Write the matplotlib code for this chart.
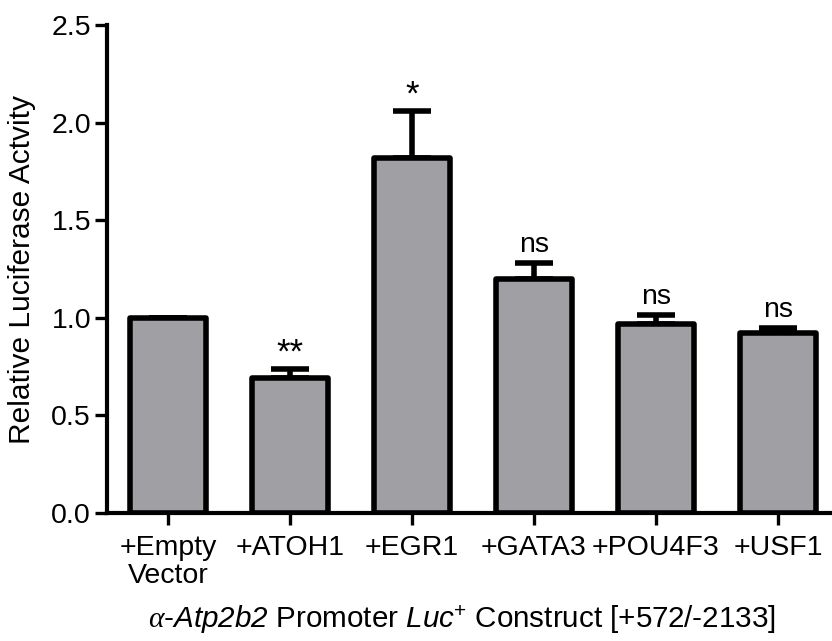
import matplotlib
matplotlib.use("Agg")
import matplotlib.pyplot as plt

plt.rcParams['font.family'] = ['Liberation Sans', 'DejaVu Sans']
plt.rcParams['mathtext.fontset'] = 'custom'
plt.rcParams['mathtext.rm'] = 'Liberation Sans'
plt.rcParams['mathtext.it'] = 'Liberation Serif:italic'
plt.rcParams['mathtext.sf'] = 'Liberation Sans:italic'

# Luciferase reporter data
categories = ['+Empty\nVector', '+ATOH1', '+EGR1', '+GATA3', '+POU4F3', '+USF1']
means = [1.00, 0.69, 1.82, 1.20, 0.97, 0.92]
sem = [0.00, 0.05, 0.24, 0.08, 0.045, 0.03]
significance = ['', '**', '*', 'ns', 'ns', 'ns']
yticks = [0.0, 0.5, 1.0, 1.5, 2.0, 2.5]

W, H = 832, 641
fig = plt.figure(figsize=(W / 100, H / 100), dpi=100)
ax = fig.add_axes([107 / W, (H - 513) / H, 732 / W, (513 - 25) / H])

x = list(range(len(categories)))
bars = ax.bar(x, means, width=0.62, color='#a09fa4', edgecolor='black',
              linewidth=4.0, zorder=2)
for b in bars:
    b.set_joinstyle('round')
ax.errorbar(x, means, yerr=[[0] * len(sem), sem], fmt='none', ecolor='black',
            elinewidth=4.0, capsize=14, capthick=4.0, zorder=1)

for xi, m, e, s in zip(x, means, sem, significance):
    if s:
        if s.startswith('*'):
            ax.text(xi, m + e - 0.005, s, ha='center', va='bottom', fontsize=25)
        else:
            ax.text(xi, m + e + 0.025, s, ha='center', va='bottom', fontsize=20.5)

ax.set_xlim(-0.5, 5.5)
ax.set_ylim(0, 2.5)
ax.set_yticks(yticks)
ax.set_yticklabels([f'{v:.1f}' for v in yticks])
ax.set_xticks(x)
ax.set_xticklabels(categories, linespacing=1.1)

for side in ['top', 'right']:
    ax.spines[side].set_visible(False)
for side in ['left', 'bottom']:
    ax.spines[side].set_linewidth(3.0)
ax.tick_params(axis='both', length=8.5, width=2.4, labelsize=20.5, pad=3)
ax.tick_params(axis='x', pad=7)

ax.set_ylabel('Relative Luciferase Actvity', fontsize=21.5, labelpad=11)
ax.set_xlabel(r'$\it{\alpha}$-$\mathsf{Atp2b2}$ Promoter $\mathsf{Luc}^{+}$ Construct [+572/-2133]',
              fontsize=21.3, labelpad=11)
ax.xaxis.label.set_x(0.485)

fig.savefig('out.png', dpi=100)
